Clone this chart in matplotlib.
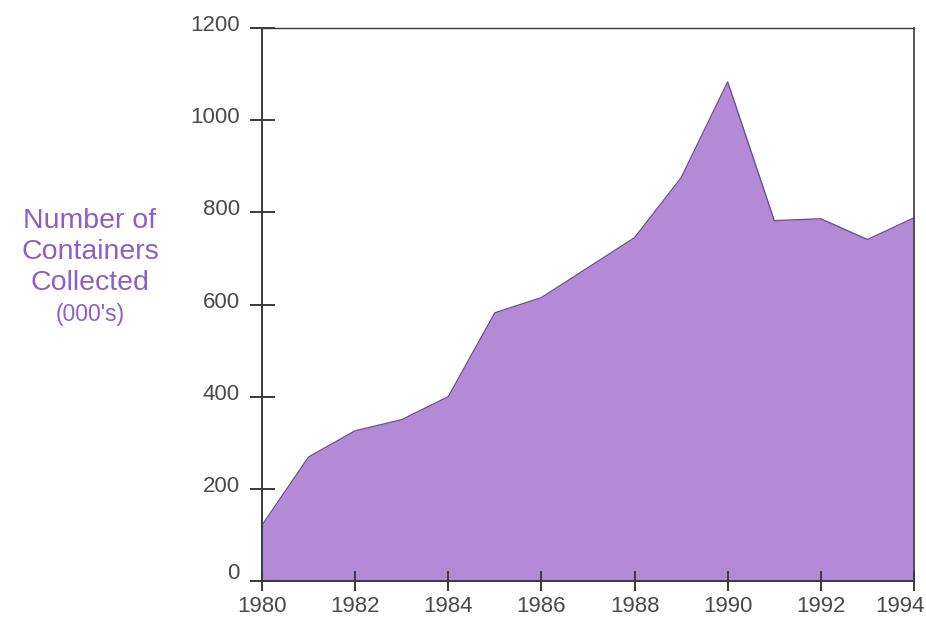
import matplotlib
matplotlib.use("Agg")
import matplotlib.pyplot as plt
import matplotlib.transforms as mtransforms
import numpy as np

years = [1980, 1981, 1982, 1983, 1984, 1985, 1986, 1987, 1988, 1989, 1990, 1991, 1992, 1993, 1994]
containers = [121, 269, 326, 350, 400, 582, 615, 680, 745, 875, 1083, 782, 786, 741, 788]
xticks = [1980, 1982, 1984, 1986, 1988, 1990, 1992, 1994]
yticks = [0, 200, 400, 600, 800, 1000, 1200]
label_lines = ["Number of", "Containers", "Collected"]
label_unit = "(000's)"

plt.rcParams['font.family'] = ['Liberation Sans', 'DejaVu Sans']

W, H = 926, 622
fig = plt.figure(figsize=(W / 100, H / 100), dpi=100)
fig.patch.set_facecolor('white')
ax = fig.add_axes([262 / W, 1 - 581 / H, (914 - 262) / W, (581 - 28) / H])

fill_color = '#b28ad6'
edge_color = '#6e4f8e'
ax.fill_between(years, containers, 0, color=fill_color, linewidth=0, zorder=1)
ax.plot(years, containers, color=edge_color, linewidth=1.0, zorder=2)

ax.set_xlim(1980, 1994)
ax.set_ylim(0, 1200)
ax.set_xticks(xticks)
ax.set_xticklabels([str(v) for v in xticks])
ax.set_yticks(yticks)
ax.set_yticklabels([str(v) for v in yticks])

spine_color = '#3a3a3a'
for s in ax.spines.values():
    s.set_color(spine_color)
    s.set_linewidth(1.4)
ax.spines['top'].set_linewidth(1.0)
ax.spines['right'].set_linewidth(1.2)

tick_text = '#4a4a4a'
ax.tick_params(axis='x', direction='inout', length=15, width=1.4, color=spine_color,
               labelsize=16, labelcolor=tick_text, pad=3)
ax.tick_params(axis='y', direction='inout', length=18, width=1.4, color=spine_color,
               labelsize=16, labelcolor=tick_text, pad=7)

# small positional nudges as in the original artwork
for lab in ax.get_xticklabels():
    if lab.get_text() == '1994':
        lab.set_transform(lab.get_transform() +
                          mtransforms.ScaledTranslation(-14 / 100, 0, fig.dpi_scale_trans))
for lab in ax.get_yticklabels():
    dy = 10 if lab.get_text() == '0' else 5
    lab.set_transform(lab.get_transform() +
                      mtransforms.ScaledTranslation(0, dy / 100, fig.dpi_scale_trans))

label_color = '#8d5fc6'
cx = 90 / W
baselines = [228, 259, 290]
for line, b in zip(label_lines, baselines):
    fig.text(cx, 1 - b / H, line, ha='center', va='baseline', fontsize=20.5, color=label_color)
fig.text(cx, 1 - 321 / H, label_unit, ha='center', va='baseline', fontsize=16.5, color=label_color)

fig.savefig('out.png', dpi=100, facecolor='white')
